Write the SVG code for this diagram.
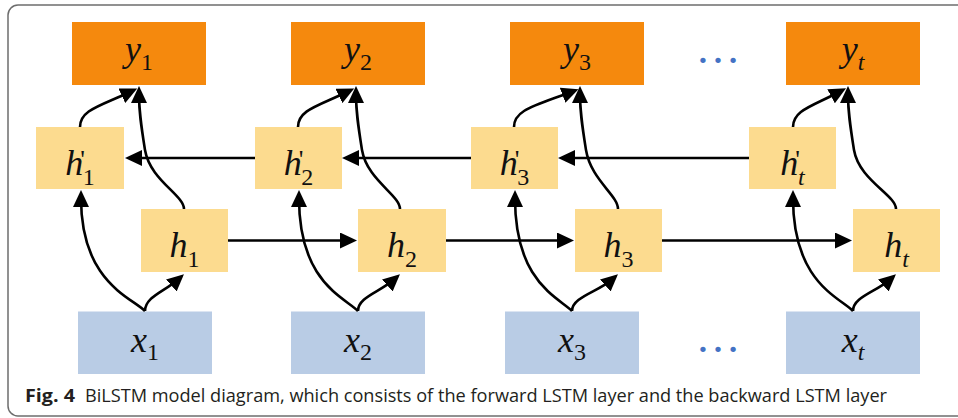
<svg xmlns="http://www.w3.org/2000/svg" width="958" height="418" viewBox="0 0 958 418">
<style>
.yb{fill:#F5890D}
.hb{fill:#FCDB8F}
.xb{fill:#B9CCE5}
.lab{font-family:"Liberation Serif","Times New Roman",Times,Tinos,"Noto Serif","DejaVu Serif",FreeSerif,serif;font-style:italic;font-size:36px;fill:#111;text-anchor:middle}
.sub{font-style:normal;font-size:24px}
.subi{font-style:italic;font-size:24px}
.pr{font-style:normal;font-size:26px}
.c{fill:none;stroke:#000;stroke-width:2.6;marker-end:url(#ah)}
.dots{font-family:"Liberation Serif","DejaVu Serif",serif;font-size:45px;fill:#4472C4;text-anchor:middle}
.cap{font-family:"Open Sans","Liberation Sans",sans-serif;font-size:18px;fill:#231F20}
</style>
<defs>
<marker id="ah" markerUnits="userSpaceOnUse" markerWidth="17" markerHeight="16" viewBox="0 0 17 16" refX="9" refY="8" orient="auto">
<path d="M0,0 L17,8 L0,16 z" fill="#000"/>
</marker>
</defs>
<rect x="8" y="5" width="1000" height="411" rx="10" fill="#fff" stroke="#6d6d6d" stroke-width="1.5"/>

<g id="y1"><rect class="yb" x="72" y="22" width="134" height="63"/><text class="lab" font-family="Liberation Serif" x="139" y="61">y<tspan class="sub" dy="9">1</tspan></text></g>
<g id="y2"><rect class="yb" x="291" y="22" width="134" height="63"/><text class="lab" x="358" y="61">y<tspan class="sub" dy="9">2</tspan></text></g>
<g id="y3"><rect class="yb" x="510" y="22" width="134" height="63"/><text class="lab" x="577" y="61">y<tspan class="sub" dy="9">3</tspan></text></g>
<g id="yt"><rect class="yb" x="786" y="22" width="134" height="63"/><text class="lab" x="853" y="61">y<tspan class="subi" dy="9">t</tspan></text></g>
<g id="dots_top"><text class="dots" x="718" y="63">…</text></g>

<g id="hp1"><rect class="hb" x="36" y="127" width="88" height="62"/><text class="lab" x="80" y="175">h<tspan class="pr" dx="-3" dy="-7">'</tspan><tspan class="sub" dx="-2" dy="17">1</tspan></text></g>
<g id="hp2"><rect class="hb" x="255" y="127" width="87" height="62"/><text class="lab" x="298.5" y="175">h<tspan class="pr" dx="-3" dy="-7">'</tspan><tspan class="sub" dx="-2" dy="17">2</tspan></text></g>
<g id="hp3"><rect class="hb" x="471" y="127" width="87" height="62"/><text class="lab" x="514.5" y="175">h<tspan class="pr" dx="-3" dy="-7">'</tspan><tspan class="sub" dx="-2" dy="17">3</tspan></text></g>
<g id="hpt"><rect class="hb" x="749" y="127" width="87" height="62"/><text class="lab" x="792.5" y="175">h<tspan class="pr" dx="-3" dy="-7">'</tspan><tspan class="subi" dx="-2" dy="17">t</tspan></text></g>

<g id="h1"><rect class="hb" x="141" y="209" width="87" height="63"/><text class="lab" x="184.5" y="257">h<tspan class="sub" dy="10">1</tspan></text></g>
<g id="h2"><rect class="hb" x="358" y="209" width="88" height="63"/><text class="lab" x="402" y="257">h<tspan class="sub" dy="10">2</tspan></text></g>
<g id="h3"><rect class="hb" x="575" y="209" width="87" height="63"/><text class="lab" x="618.5" y="257">h<tspan class="sub" dy="10">3</tspan></text></g>
<g id="ht"><rect class="hb" x="853" y="209" width="87" height="63"/><text class="lab" x="896.5" y="257">h<tspan class="subi" dy="10">t</tspan></text></g>

<g id="x1"><rect class="xb" x="78" y="311.5" width="134" height="62.5"/><text class="lab" x="145" y="352">x<tspan class="sub" dy="8">1</tspan></text></g>
<g id="x2"><rect class="xb" x="291" y="311.5" width="134" height="62.5"/><text class="lab" x="358" y="352">x<tspan class="sub" dy="8">2</tspan></text></g>
<g id="x3"><rect class="xb" x="505" y="311.5" width="134" height="62.5"/><text class="lab" x="572" y="352">x<tspan class="sub" dy="8">3</tspan></text></g>
<g id="xt"><rect class="xb" x="786" y="311.5" width="134" height="62.5"/><text class="lab" x="853" y="352">x<tspan class="subi" dy="8">t</tspan></text></g>
<g id="dots_bottom"><text class="dots" x="718" y="352">…</text></g>

<g id="connectors">
<path class="c" d="M145,311 C131,297 81,282 81,198"/>
<path class="c" d="M145,311 C145,297 164,292 178,279.5"/>
<path class="c" d="M184,209 C184,195 150,180 145,150 C141,125 139,112 139,94"/>
<path class="c" d="M80,127 C80,110 100,106 130,92"/>
<path class="c" d="M358,311 C344,297 299,282 299,198"/>
<path class="c" d="M358,311 C358,297 380,292 394,279.5"/>
<path class="c" d="M400,209 C400,195 367,180 362,150 C358,125 356,112 356,94"/>
<path class="c" d="M298,127 C298,110 318,106 347,92"/>
<path class="c" d="M572,311 C558,297 515,282 515,198"/>
<path class="c" d="M572,311 C572,297 598,292 612,279.5"/>
<path class="c" d="M618,209 C618,195 591,180 586,150 C582,125 580,112 580,94"/>
<path class="c" d="M514,127 C514,110 534,106 571,92"/>
<path class="c" d="M853,311 C839,297 793,282 793,198"/>
<path class="c" d="M853,311 C853,297 876,292 890,279.5"/>
<path class="c" d="M896,209 C896,195 859,180 854,150 C850,125 848,112 848,94"/>
<path class="c" d="M793,127 C793,110 813,106 839,92"/>
<path class="c" d="M228,240.5 L349,240.5"/>
<path class="c" d="M446,240.5 L566,240.5"/>
<path class="c" d="M662,240.5 L844,240.5"/>
<path class="c" d="M255,158 L133,158"/>
<path class="c" d="M471,158 L350,158"/>
<path class="c" d="M749,158 L566,158"/>
</g>

<g id="caption">
<text class="cap" x="25" y="402" font-weight="bold" textLength="50" lengthAdjust="spacingAndGlyphs">Fig. 4</text>
<text class="cap" x="85" y="402" textLength="802" lengthAdjust="spacingAndGlyphs">BiLSTM model diagram, which consists of the forward LSTM layer and the backward LSTM layer</text>
</g>
</svg>
